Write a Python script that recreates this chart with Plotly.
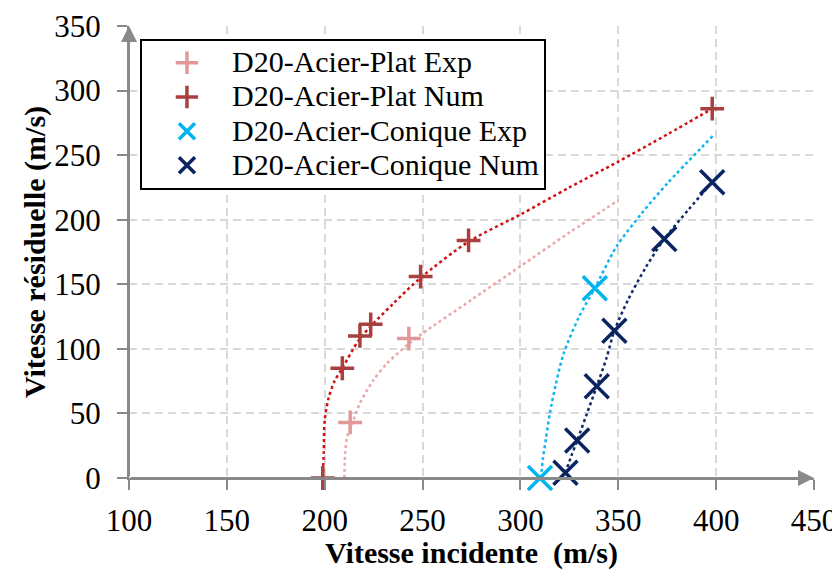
import plotly.graph_objects as go

# ---- data ----
plat_exp_x = [213, 243]
plat_exp_y = [43, 108]

plat_num_x = [199, 209, 218, 223.5, 249, 273.5, 398]
plat_num_y = [0, 85, 110, 119, 156, 184, 286]

con_exp_x = [310, 338]
con_exp_y = [0, 147]

con_num_x = [323, 329, 339, 348, 373.5, 398]
con_num_y = [4, 29, 71, 114, 185, 229]

# trend curves
plat_exp_fit_x = [210, 210.5, 211.5, 214, 218, 225, 232, 243, 250, 275, 300, 325, 350]
plat_exp_fit_y = [0, 20, 32, 42, 58, 76, 89, 104, 112, 138, 164, 190, 215]

plat_num_fit_x = [199, 199.5, 200, 202, 205, 209, 218, 235, 249, 273.5, 300, 325, 350, 375, 398]
plat_num_fit_y = [0, 20, 45, 62, 75, 85, 108, 135, 155, 183, 204, 225, 245, 266, 286]

con_exp_fit_x = [310.5, 311.5, 313, 315, 318, 322, 330, 338, 349, 362, 375, 399]
con_exp_fit_y = [0, 15, 30, 50, 72, 96, 125, 147, 179, 205, 228, 266]

con_num_fit_x = [323, 326, 329, 334, 339, 344, 348, 355, 364, 373.5, 386, 398]
con_num_fit_y = [4, 17, 29, 50, 71, 93, 114, 138, 163, 185, 208, 229]

names = ["D20-Acier-Plat Exp", "D20-Acier-Plat Num",
         "D20-Acier-Conique Exp", "D20-Acier-Conique Num"]
x_ticks = [100, 150, 200, 250, 300, 350, 400, 450]
y_ticks = [0, 50, 100, 150, 200, 250, 300, 350]

FONT = "Liberation Serif"
AXIS_GRAY = "#898989"
GRID = "#d9d9d9"


def legend_label(s):
    return "<span style='font-size:30px'>" + s + "</span>"


fig = go.Figure()

# dotted trend curves
for xs, ys, col in [
    (plat_exp_fit_x, plat_exp_fit_y, "#EAA8A8"),
    (plat_num_fit_x, plat_num_fit_y, "#D01010"),
    (con_exp_fit_x, con_exp_fit_y, "#10B4F0"),
    (con_num_fit_x, con_num_fit_y, "#102A68"),
]:
    fig.add_trace(go.Scatter(x=xs, y=ys, mode="lines", showlegend=False,
                             line=dict(color=col, width=2.5, dash="dot", shape="spline", smoothing=0.8),
                             hoverinfo="skip", cliponaxis=False))

# markers
fig.add_trace(go.Scatter(x=plat_exp_x, y=plat_exp_y, mode="markers", name=legend_label(names[0]),
                         marker=dict(symbol="cross-thin", size=17, color="#E09898",
                                     line=dict(color="#E09898", width=3.5)), cliponaxis=False))
fig.add_trace(go.Scatter(x=plat_num_x, y=plat_num_y, mode="markers", name=legend_label(names[1]),
                         marker=dict(symbol="cross-thin", size=17, color="#A84040",
                                     line=dict(color="#A84040", width=3.5)), cliponaxis=False))
fig.add_trace(go.Scatter(x=con_exp_x, y=con_exp_y, mode="markers", name=legend_label(names[2]),
                         marker=dict(symbol="x-thin", size=24, color="#00B4F0",
                                     line=dict(color="#00B4F0", width=3.5)), cliponaxis=False))
fig.add_trace(go.Scatter(x=con_num_x, y=con_num_y, mode="markers", name=legend_label(names[3]),
                         marker=dict(symbol="x-thin", size=24, color="#0A2462",
                                     line=dict(color="#0A2462", width=3.5)), cliponaxis=False))

# axis arrows
fig.add_annotation(x=450, y=0, ax=100, ay=0, xref="x", yref="y", axref="x", ayref="y",
                   showarrow=True, arrowhead=2, arrowsize=1.6, arrowwidth=2,
                   arrowcolor=AXIS_GRAY, text="", standoff=0)
fig.add_annotation(x=100, y=350, ax=100, ay=0, xref="x", yref="y", axref="x", ayref="y",
                   showarrow=True, arrowhead=2, arrowsize=1.6, arrowwidth=2,
                   arrowcolor=AXIS_GRAY, text="", standoff=0)

fig.update_layout(
    width=832, height=562,
    margin=dict(l=121, r=26, t=18, b=92, autoexpand=False),
    paper_bgcolor="white", plot_bgcolor="white",
    font=dict(family=FONT, size=30, color="black"),
    showlegend=True,
    legend=dict(x=0.016, y=0.972, xanchor="left", yanchor="top",
                bgcolor="white", bordercolor="black", borderwidth=2,
                font=dict(family=FONT, size=24, color="black"),
                itemwidth=80, tracegroupgap=0),
    xaxis=dict(range=[100, 450], tickvals=x_ticks, ticktext=[str(v) for v in x_ticks],
               showgrid=True, gridcolor=GRID, gridwidth=2, griddash="8px,5px",
               showline=True, linecolor=AXIS_GRAY, linewidth=2,
               ticks="outside", ticklen=10, tickwidth=2, tickcolor=AXIS_GRAY,
               zeroline=False, automargin=False, ticklabelstandoff=4,
               tickfont=dict(family=FONT, size=31, color="black"),
               title=dict(text="<b>Vitesse incidente  (m/s)</b>", standoff=4,
                          font=dict(family=FONT, size=30, color="black"))),
    yaxis=dict(range=[0, 350], tickvals=y_ticks, ticktext=[str(v) for v in y_ticks],
               showgrid=True, gridcolor=GRID, gridwidth=2, griddash="8px,5px",
               showline=True, linecolor=AXIS_GRAY, linewidth=2,
               ticks="outside", ticklen=10, tickwidth=2, tickcolor=AXIS_GRAY,
               zeroline=False, automargin=False, ticklabelstandoff=10,
               tickfont=dict(family=FONT, size=31, color="black"),
               title=dict(text="<b>Vitesse résiduelle (m/s)</b>", standoff=0,
                          font=dict(family=FONT, size=30, color="black"))),
)

fig.write_html("out.html")
